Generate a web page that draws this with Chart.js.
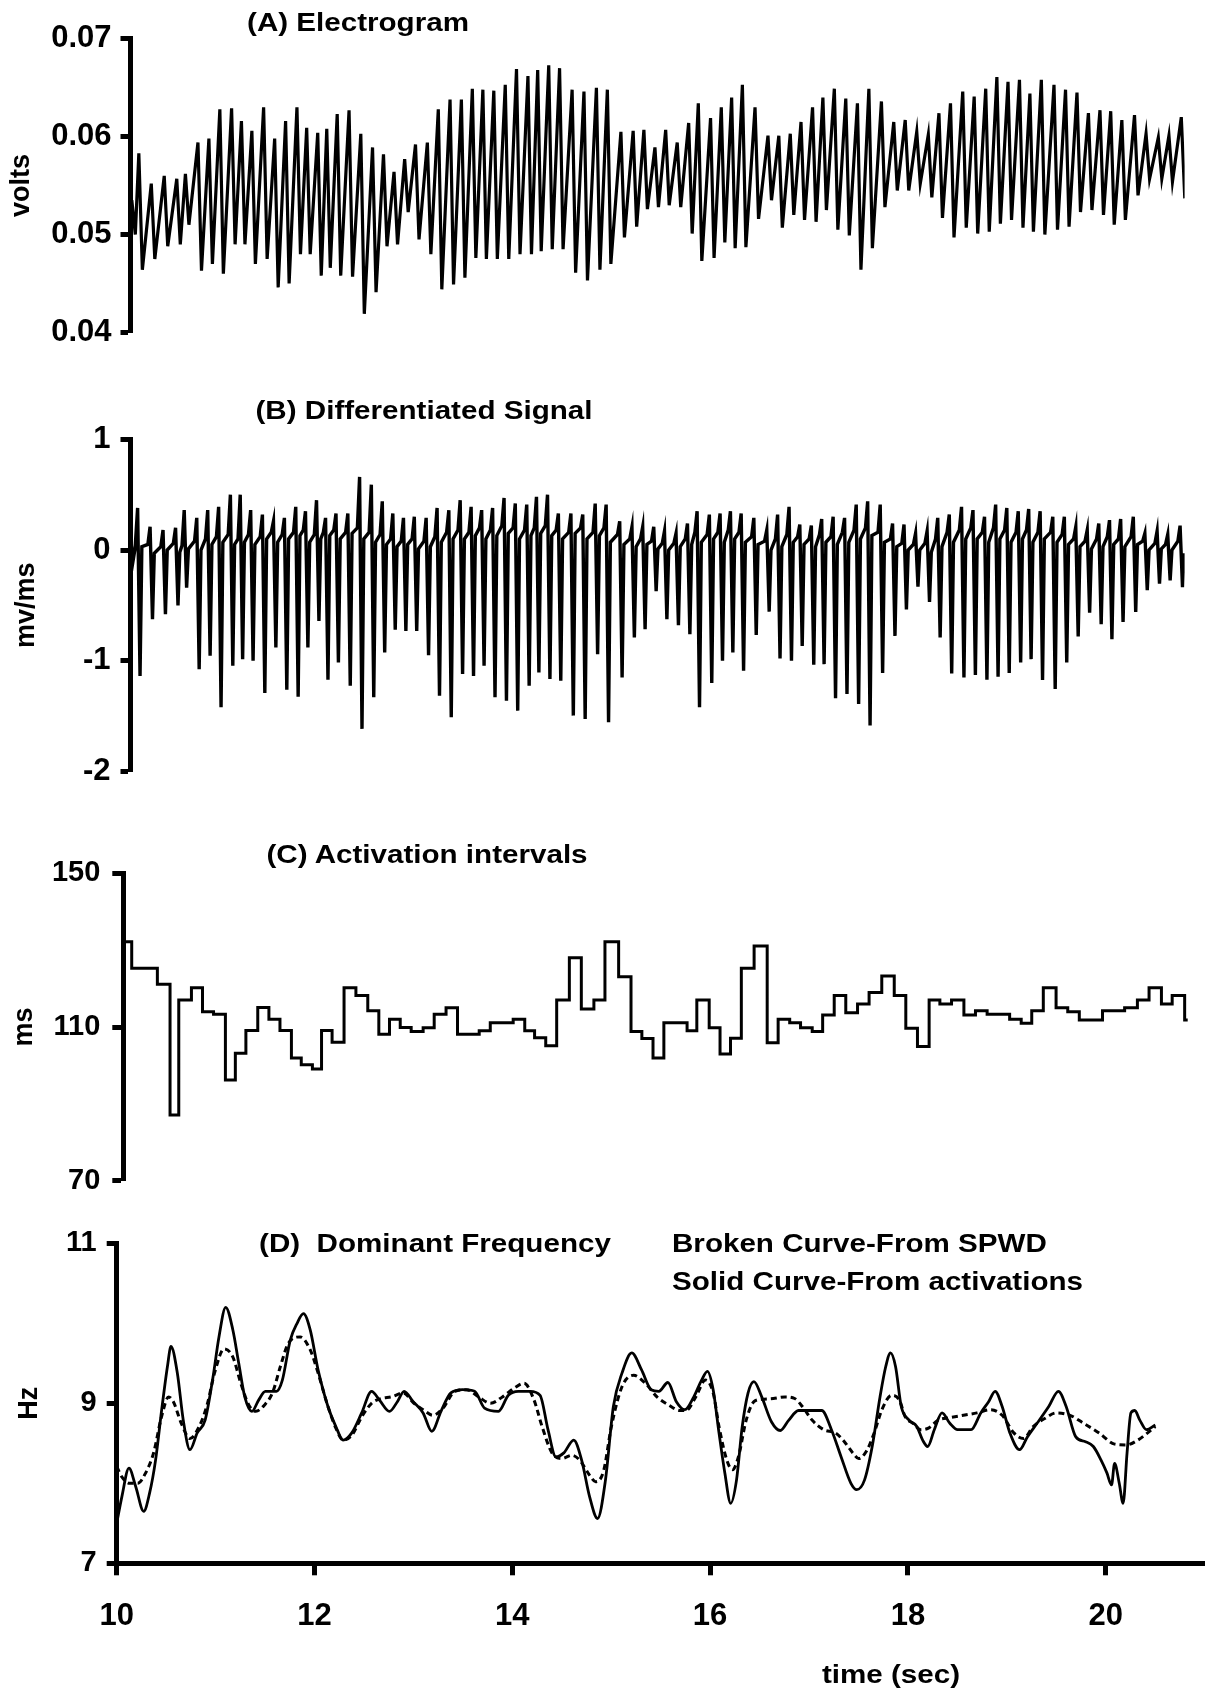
<!DOCTYPE html>
<html>
<head>
<meta charset="utf-8">
<script src="https://cdn.jsdelivr.net/npm/chart.js"></script>
<style>
html,body{margin:0;padding:0;background:#fff;}
#wrap{position:relative;width:1207px;height:1692px;overflow:hidden;background:#fff;}
canvas{position:absolute;left:0;}
.lbl{position:absolute;font-family:"Liberation Sans",Arial,Helvetica,sans-serif;font-weight:bold;color:#000;white-space:pre;line-height:1;font-size:25.6px;}
.ctr{transform:translate(-50%,-50%) scaleX(1.156);}
.lft{transform-origin:0 50%;transform:translateY(-50%) scaleX(1.156);}
</style>
</head>
<body>
<div id="wrap">
  <canvas id="cA" width="1207" height="360" style="top:0px;width:1207px;height:360px"></canvas>
  <canvas id="cB" width="1207" height="420" style="top:380px;width:1207px;height:420px"></canvas>
  <canvas id="cC" width="1207" height="400" style="top:820px;width:1207px;height:400px"></canvas>
  <canvas id="cD" width="1207" height="492" style="top:1200px;width:1207px;height:492px"></canvas>

  <div class="lbl ctr" style="left:358px;top:23px">(A) Electrogram</div>
  <div class="lbl ctr" style="left:424px;top:411px">(B) Differentiated Signal</div>
  <div class="lbl ctr" style="left:427px;top:855px">(C) Activation intervals</div>
  <div class="lbl ctr" style="left:435px;top:1244px">(D)  Dominant Frequency</div>
  <div class="lbl lft" style="left:672px;top:1244px">Broken Curve-From SPWD</div>
  <div class="lbl lft" style="left:672px;top:1282px">Solid Curve-From activations</div>
  <div class="lbl ctr" style="left:891px;top:1675px">time (sec)</div>
</div>
<script>
// ================= DATA =================
// activation (beat) times, seconds
const beatTimes = [
 10.013, 10.083, 10.207, 10.336, 10.461, 10.547, 10.672, 10.781, 10.890, 11.007,
 11.105, 11.209, 11.326, 11.436, 11.545, 11.658, 11.755, 11.865, 11.955, 12.059,
 12.177, 12.294, 12.411, 12.520, 12.625, 12.731, 12.839, 12.957, 13.066, 13.183,
 13.296, 13.405, 13.510, 13.619, 13.733, 13.845, 13.959, 14.056, 14.166, 14.274,
 14.399, 14.517, 14.641, 14.750, 14.885, 15.007, 15.114, 15.224, 15.331, 15.446,
 15.560, 15.656, 15.778, 15.885, 15.988, 16.095, 16.221, 16.350, 16.458, 16.572,
 16.679, 16.794, 16.897, 17.011, 17.125, 17.241, 17.355, 17.480, 17.603, 17.717,
 17.832, 17.947, 18.053, 18.168, 18.290, 18.404, 18.519, 18.630, 18.741, 18.855,
 18.959, 19.073, 19.199, 19.314, 19.428, 19.542, 19.657, 19.764, 19.875, 20.001,
 20.116, 20.238, 20.344, 20.467];
const lastBeatEnd = 20.497;

// (C) activation intervals, ms (one per beat)
const intervalMs = [
 132.2, 125.3, 125.3, 121.1, 87.1, 117.0, 120.2, 114.0, 113.3, 96.2,
 103.2, 109.1, 115.1, 112.0, 109.1, 101.9, 100.2, 99.1, 109.1, 106.0,
 120.2, 118.2, 114.2, 108.1, 112.0, 109.9, 108.8, 109.8, 113.3, 115.0,
 108.1, 108.1, 109.0, 111.1, 111.1, 112.0, 109.0, 107.2, 105.1, 117.0,
 128.0, 114.7, 117.0, 132.2, 123.1, 108.8, 107.0, 101.9, 111.1, 111.1,
 109.0, 117.0, 109.8, 103.0, 107.1, 125.3, 131.1, 105.9, 112.0, 111.1,
 109.8, 108.8, 113.1, 118.2, 113.7, 116.0, 119.0, 123.3, 118.2, 109.7,
 104.9, 117.0, 116.0, 117.0, 113.1, 114.2, 113.3, 113.3, 112.0, 111.0,
 114.2, 120.2, 115.0, 114.0, 111.8, 111.8, 114.2, 114.2, 115.0, 117.0,
 120.2, 116.0, 118.2, 111.8];

// (A) electrogram, volts: peak before and trough after each activation
const egmPeak = [
 0.0535, 0.0583, 0.0552, 0.0560, 0.0557, 0.0562, 0.0594, 0.0598, 0.0628, 0.0629,
 0.0616, 0.0606, 0.0630, 0.0598, 0.0616, 0.0630, 0.0609, 0.0604, 0.0608, 0.0623,
 0.0627, 0.0603, 0.0589, 0.0582, 0.0564, 0.0577, 0.0592, 0.0594, 0.0628, 0.0638,
 0.0638, 0.0649, 0.0648, 0.0647, 0.0653, 0.0669, 0.0662, 0.0668, 0.0673, 0.0670,
 0.0648, 0.0646, 0.0650, 0.0648, 0.0605, 0.0606, 0.0607, 0.0589, 0.0607, 0.0594,
 0.0614, 0.0634, 0.0619, 0.0630, 0.0640, 0.0653, 0.0630, 0.0601, 0.0601, 0.0603,
 0.0615, 0.0630, 0.0640, 0.0649, 0.0639, 0.0634, 0.0649, 0.0636, 0.0615, 0.0617,
 0.0605, 0.0602, 0.0624, 0.0634, 0.0646, 0.0641, 0.0649, 0.0661, 0.0656, 0.0658,
 0.0644, 0.0658, 0.0653, 0.0648, 0.0645, 0.0624, 0.0627, 0.0626, 0.0617, 0.0622,
 0.0603, 0.0599, 0.0601, 0.0620];
const egmTrough = [
 0.0500, 0.0464, 0.0475, 0.0488, 0.0490, 0.0510, 0.0463, 0.0470, 0.0460, 0.0490,
 0.0490, 0.0470, 0.0475, 0.0446, 0.0450, 0.0480, 0.0480, 0.0458, 0.0466, 0.0458,
 0.0457, 0.0419, 0.0441, 0.0488, 0.0490, 0.0523, 0.0495, 0.0480, 0.0444, 0.0449,
 0.0456, 0.0476, 0.0475, 0.0475, 0.0475, 0.0480, 0.0480, 0.0483, 0.0485, 0.0485,
 0.0461, 0.0453, 0.0464, 0.0470, 0.0497, 0.0508, 0.0526, 0.0528, 0.0530, 0.0528,
 0.0501, 0.0473, 0.0476, 0.0492, 0.0486, 0.0487, 0.0516, 0.0535, 0.0507, 0.0520,
 0.0515, 0.0513, 0.0525, 0.0505, 0.0499, 0.0464, 0.0486, 0.0528, 0.0545, 0.0545,
 0.0552, 0.0538, 0.0517, 0.0497, 0.0507, 0.0501, 0.0503, 0.0511, 0.0515, 0.0507,
 0.0503, 0.0500, 0.0505, 0.0508, 0.0523, 0.0525, 0.0520, 0.0510, 0.0515, 0.0540,
 0.0557, 0.0557, 0.0554, 0.0537];

// (B) differentiated signal, mv/ms:
// band level before the upstroke, positive peak, negative spike, band level after the spike
const dvdtPre = [
 0.04, 0.06, 0.05, 0.03, 0.06, 0.04, 0.08, 0.10, 0.12, 0.14,
 0.10, 0.14, 0.12, 0.16, 0.14, 0.16, 0.18, 0.14, 0.16, 0.18,
 0.16, 0.20, 0.16, 0.14, 0.10, 0.08, 0.10, 0.08, 0.12, 0.16,
 0.18, 0.16, 0.20, 0.18, 0.22, 0.20, 0.18, 0.20, 0.22, 0.18,
 0.16, 0.20, 0.16, 0.20, 0.14, 0.10, 0.10, 0.08, 0.06, 0.06,
 0.10, 0.16, 0.14, 0.16, 0.18, 0.16, 0.12, 0.08, 0.10, 0.14,
 0.12, 0.10, 0.14, 0.12, 0.16, 0.18, 0.20, 0.16, 0.10, 0.06,
 0.05, 0.06, 0.10, 0.16, 0.18, 0.20, 0.16, 0.20, 0.18, 0.16,
 0.18, 0.16, 0.16, 0.14, 0.10, 0.08, 0.10, 0.12, 0.10, 0.12,
 0.08, 0.06, 0.05, 0.08];
const dvdtMax = [
 0.10, 0.38, 0.21, 0.18, 0.20, 0.36, 0.29, 0.36, 0.39, 0.50,
 0.50, 0.36, 0.32, 0.26, 0.29, 0.39, 0.35, 0.45, 0.29, 0.33,
 0.33, 0.66, 0.59, 0.44, 0.33, 0.29, 0.30, 0.29, 0.38, 0.36,
 0.45, 0.39, 0.36, 0.38, 0.47, 0.42, 0.41, 0.48, 0.50, 0.33,
 0.33, 0.32, 0.42, 0.41, 0.26, 0.21, 0.21, 0.21, 0.17, 0.15,
 0.24, 0.35, 0.32, 0.33, 0.35, 0.33, 0.29, 0.18, 0.32, 0.39,
 0.23, 0.22, 0.28, 0.30, 0.29, 0.41, 0.44, 0.41, 0.24, 0.23,
 0.15, 0.17, 0.29, 0.32, 0.39, 0.36, 0.30, 0.41, 0.38, 0.35,
 0.37, 0.35, 0.30, 0.30, 0.21, 0.18, 0.24, 0.27, 0.28, 0.30,
 0.15, 0.17, 0.14, 0.22];
const dvdtMin = [
 -0.10, -1.137, -0.626, -0.581, -0.500, -0.341, -1.076, -0.956, -1.421, -1.046,
 -0.986, -1.001, -1.292, -0.881, -1.262, -1.325, -0.881, -0.641, -1.172, -1.016,
 -1.226, -1.616, -1.331, -0.926, -0.719, -0.731, -0.731, -0.950, -1.316, -1.511,
 -1.121, -1.137, -1.046, -1.331, -1.361, -1.451, -1.226, -1.106, -1.166, -1.181,
 -1.496, -1.526, -0.941, -1.556, -1.151, -0.791, -0.716, -0.371, -0.626, -0.680,
 -0.761, -1.421, -1.202, -1.001, -0.926, -1.091, -0.767, -0.557, -0.980, -1.001,
 -0.866, -1.037, -1.031, -1.340, -1.301, -1.391, -1.586, -1.112, -0.776, -0.536,
 -0.332, -0.470, -0.791, -1.115, -1.151, -1.130, -1.172, -1.145, -1.112, -1.016,
 -0.986, -1.175, -1.256, -1.016, -0.782, -0.566, -0.671, -0.806, -0.650, -0.560,
 -0.362, -0.305, -0.275, -0.335];
const dvdtRest = [
 0.00, 0.03, -0.03, 0.00, -0.02, 0.01, 0.00, 0.05, 0.07, 0.05,
 0.07, 0.05, 0.10, 0.07, 0.10, 0.13, 0.07, 0.10, 0.13, 0.10,
 0.15, 0.10, 0.07, 0.05, 0.03, 0.05, 0.01, 0.03, 0.07, 0.10,
 0.10, 0.13, 0.10, 0.13, 0.15, 0.10, 0.13, 0.15, 0.13, 0.10,
 0.15, 0.10, 0.13, 0.07, 0.05, 0.03, 0.05, 0.01, 0.00, 0.03,
 0.05, 0.07, 0.10, 0.07, 0.10, 0.07, 0.05, 0.00, 0.03, 0.07,
 0.05, 0.03, 0.07, 0.05, 0.07, 0.10, 0.13, 0.07, 0.03, 0.00,
 0.00, -0.02, 0.03, 0.07, 0.10, 0.10, 0.07, 0.10, 0.07, 0.10,
 0.07, 0.10, 0.07, 0.05, 0.03, 0.01, 0.03, 0.05, 0.03, 0.05,
 0.00, 0.01, 0.00, -0.03];

// (D) dominant frequency from activations (solid curve)
const actTime = [
 10.000, 10.052, 10.124, 10.192, 10.273, 10.333, 10.393, 10.453, 10.513, 10.549,
 10.613, 10.673, 10.741, 10.814, 10.894, 10.974, 11.034, 11.102, 11.174, 11.234,
 11.295, 11.367, 11.435, 11.503, 11.615, 11.675, 11.755, 11.824, 11.888, 11.956,
 12.036, 12.136, 12.216, 12.289, 12.377, 12.477, 12.577, 12.657, 12.758, 12.838,
 12.906, 12.998, 13.098, 13.186, 13.279, 13.379, 13.499, 13.619, 13.719, 13.860,
 13.960, 14.060, 14.180, 14.281, 14.361, 14.441, 14.521, 14.621, 14.701, 14.782,
 14.862, 14.942, 15.022, 15.110, 15.208, 15.306, 15.404, 15.482, 15.573, 15.659,
 15.745, 15.835, 15.914, 15.973, 16.031, 16.090, 16.149, 16.208, 16.267, 16.325,
 16.384, 16.443, 16.522, 16.620, 16.710, 16.796, 16.894, 17.012, 17.129, 17.227,
 17.325, 17.424, 17.482, 17.561, 17.639, 17.718, 17.776, 17.824, 17.875, 17.933,
 18.012, 18.090, 18.149, 18.200, 18.267, 18.345, 18.424, 18.502, 18.639, 18.737,
 18.816, 18.882, 18.953, 19.031, 19.129, 19.208, 19.306, 19.424, 19.522, 19.600,
 19.698, 19.796, 19.875, 19.953, 20.012, 20.059, 20.090, 20.137, 20.176, 20.216,
 20.255, 20.294, 20.345, 20.412, 20.502];
const actHz = [
 7.50, 7.83, 8.19, 7.96, 7.65, 7.88, 8.29, 8.90, 9.46, 9.71,
 9.38, 8.79, 8.42, 8.63, 8.79, 9.33, 9.83, 10.20, 9.92, 9.50,
 9.08, 8.90, 9.04, 9.15, 9.15, 9.29, 9.79, 10.00, 10.12, 9.92,
 9.42, 8.96, 8.71, 8.54, 8.63, 8.88, 9.15, 9.04, 8.90, 9.02,
 9.15, 9.02, 8.88, 8.65, 8.90, 9.13, 9.17, 9.15, 8.94, 8.90,
 9.10, 9.15, 9.15, 9.10, 8.67, 8.33, 8.38, 8.54, 8.29, 7.83,
 7.56, 8.04, 8.96, 9.38, 9.63, 9.42, 9.17, 9.15, 9.26, 9.02,
 8.92, 9.08, 9.29, 9.40, 9.17, 8.63, 8.13, 7.75, 8.04, 8.71,
 9.13, 9.27, 9.08, 8.77, 8.66, 8.79, 8.91, 8.91, 8.91, 8.67,
 8.33, 8.00, 7.92, 8.04, 8.46, 9.08, 9.46, 9.63, 9.46, 8.96,
 8.79, 8.71, 8.54, 8.46, 8.67, 8.88, 8.75, 8.67, 8.67, 8.88,
 9.02, 9.15, 8.96, 8.63, 8.42, 8.58, 8.75, 8.96, 9.15, 8.96,
 8.58, 8.52, 8.46, 8.29, 8.13, 7.98, 8.25, 8.00, 7.75, 8.38,
 8.88, 8.91, 8.79, 8.67, 8.73];

// (D) dominant frequency from SPWD (broken curve)
const spwdTime = [
 10.000, 10.052, 10.132, 10.212, 10.293, 10.373, 10.453, 10.525, 10.573, 10.653,
 10.741, 10.834, 10.914, 10.994, 11.086, 11.174, 11.255, 11.335, 11.407, 11.495,
 11.575, 11.655, 11.735, 11.856, 11.956, 12.036, 12.136, 12.216, 12.289, 12.377,
 12.477, 12.577, 12.677, 12.778, 12.898, 12.998, 13.098, 13.198, 13.299, 13.419,
 13.539, 13.659, 13.780, 13.900, 14.020, 14.120, 14.220, 14.301, 14.401, 14.501,
 14.601, 14.681, 14.782, 14.842, 14.922, 15.002, 15.110, 15.227, 15.345, 15.463,
 15.580, 15.698, 15.757, 15.855, 15.953, 16.031, 16.090, 16.169, 16.227, 16.286,
 16.365, 16.443, 16.522, 16.639, 16.757, 16.855, 16.933, 17.031, 17.149, 17.267,
 17.345, 17.443, 17.502, 17.580, 17.659, 17.737, 17.835, 17.914, 17.973, 18.051,
 18.129, 18.208, 18.306, 18.424, 18.561, 18.698, 18.835, 18.953, 19.071, 19.169,
 19.267, 19.384, 19.502, 19.639, 19.776, 19.933, 20.090, 20.208, 20.325, 20.424,
 20.502];
const spwdHz = [
 8.21, 8.08, 8.00, 8.00, 8.13, 8.38, 8.83, 9.08, 9.02, 8.75,
 8.56, 8.71, 8.98, 9.40, 9.68, 9.58, 9.25, 8.98, 8.90, 8.98,
 9.13, 9.46, 9.75, 9.83, 9.67, 9.38, 8.96, 8.69, 8.54, 8.60,
 8.83, 9.00, 9.06, 9.08, 9.13, 9.01, 8.92, 8.85, 8.94, 9.15,
 9.17, 9.08, 9.00, 9.08, 9.19, 9.25, 9.04, 8.71, 8.38, 8.31,
 8.35, 8.29, 8.10, 8.02, 8.15, 8.71, 9.21, 9.35, 9.25, 9.08,
 8.98, 8.91, 8.91, 9.08, 9.29, 9.13, 8.71, 8.29, 8.17, 8.33,
 8.79, 9.02, 9.05, 9.06, 9.08, 9.06, 8.96, 8.79, 8.67, 8.63,
 8.54, 8.38, 8.31, 8.40, 8.63, 8.92, 9.10, 9.04, 8.83, 8.75,
 8.67, 8.69, 8.79, 8.82, 8.85, 8.88, 8.92, 8.85, 8.63, 8.56,
 8.71, 8.81, 8.88, 8.85, 8.75, 8.63, 8.49, 8.48, 8.54, 8.63,
 8.71];

// tick values and labels
const egmTicks = [0.04, 0.05, 0.06, 0.07];
const egmTickLabels = ['0.04', '0.05', '0.06', '0.07'];
const dvdtTicks = [-2, -1, 0, 1];
const dvdtTickLabels = ['-2', '-1', '0', '1'];
const ivlTicks = [70, 110, 150];
const ivlTickLabels = ['70', '110', '150'];
const hzTicks = [7, 9, 11];
const hzTickLabels = ['7', '9', '11'];
const timeTicks = [10, 12, 14, 16, 18, 20];
const timeTickLabels = ['10', '12', '14', '16', '18', '20'];

// ================= drawing =================
const FONT = '"Liberation Sans", Arial, Helvetica, sans-serif';
const INK = '#000';
// stroke timing of the drawn waveforms (seconds)
const EGM_FALL = 0.035, DV_LEAD = 0.034, DV_PRE = 0.012, DV_POST = 0.012, DV_BACK = 0.03;

const egmPts = [];
beatTimes.forEach((t, i) => {
  egmPts.push({x: t, y: egmPeak[i]});
  egmPts.push({x: t + EGM_FALL, y: egmTrough[i]});
});
const dvdtPts = [];
beatTimes.forEach((t, i) => {
  dvdtPts.push({x: t - DV_LEAD, y: dvdtPre[i]});
  dvdtPts.push({x: t - DV_PRE, y: dvdtMax[i]});
  dvdtPts.push({x: t + DV_POST, y: dvdtMin[i]});
  dvdtPts.push({x: t + DV_BACK, y: dvdtRest[i]});
});
const ivlPts = beatTimes.map((t, i) => ({x: t, y: intervalMs[i]}));
ivlPts.push({x: lastBeatEnd, y: intervalMs[intervalMs.length - 1]});
const actPts = actTime.map((t, i) => ({x: t, y: actHz[i]}));
const spwdPts = spwdTime.map((t, i) => ({x: t, y: spwdHz[i]}));

function yAxis(o) {
  return {
    type: 'linear', position: 'left', min: o.min, max: o.max,
    afterFit(s) { s.width = o.axisX; },
    afterBuildTicks(s) { s.ticks = o.ticks.map(v => ({value: v})); },
    ticks: {
      color: INK, autoSkip: false, padding: o.pad,
      font: {family: FONT, weight: 'bold', size: o.fs},
      callback: (v, i) => o.labels[i]
    },
    grid: {display: true, drawOnChartArea: false, drawTicks: true, tickLength: o.tl, tickWidth: 5, tickColor: INK},
    border: {display: true, color: INK, width: 5},
    title: {display: true, text: o.title, color: INK,
      font: {family: FONT, weight: 'bold', size: 27}, padding: {top: o.tpad, bottom: 0}}
  };
}
function hiddenX(max) {
  return {type: 'linear', min: 10, max: max, display: false};
}
function base(pad, scales) {
  return {
    responsive: false, maintainAspectRatio: false, animation: false, devicePixelRatio: 1, events: [],
    layout: {padding: pad},
    plugins: {legend: {display: false}, tooltip: {enabled: false}, title: {display: false}},
    elements: {point: {radius: 0}},
    scales: scales
  };
}

// (A) Electrogram
new Chart(document.getElementById('cA'), {
  type: 'line',
  data: {datasets: [{data: egmPts, borderColor: INK, borderWidth: 3.2, tension: 0, pointRadius: 0}]},
  options: base({left: 0, top: 38.8, right: 22.4, bottom: 24.6}, {
    x: hiddenX(20.5),
    y: yAxis({min: 0.04, max: 0.07, axisX: 130.5, ticks: egmTicks, labels: egmTickLabels,
      pad: 9, tl: 10, fs: 31, title: 'volts', tpad: 5})
  })
});

// (B) Differentiated signal
new Chart(document.getElementById('cB'), {
  type: 'line',
  data: {datasets: [{data: dvdtPts, borderColor: INK, borderWidth: 3.4, tension: 0, pointRadius: 0}]},
  options: base({left: 0, top: 59.3, right: 22.4, bottom: 27.3}, {
    x: hiddenX(20.5),
    y: yAxis({min: -2, max: 1, axisX: 130.5, ticks: dvdtTicks, labels: dvdtTickLabels,
      pad: 10, tl: 10, fs: 31, title: 'mv/ms', tpad: 10})
  })
});

// (C) Activation intervals
new Chart(document.getElementById('cC'), {
  type: 'line',
  data: {datasets: [{data: ivlPts, borderColor: INK, borderWidth: 3, stepped: 'before', pointRadius: 0}]},
  options: base({left: 0, top: 53.3, right: 19, bottom: 39.3}, {
    x: hiddenX(20.5),
    y: yAxis({min: 70, max: 150, axisX: 123.3, ticks: ivlTicks, labels: ivlTickLabels,
      pad: 12, tl: 11, fs: 29, title: 'ms', tpad: 8})
  })
});

// (D) Dominant frequency
new Chart(document.getElementById('cD'), {
  type: 'line',
  data: {datasets: [
    {data: spwdPts, borderColor: INK, borderWidth: 3, borderDash: [6, 4], cubicInterpolationMode: 'monotone', pointRadius: 0},
    {data: actPts, borderColor: INK, borderWidth: 2.8, cubicInterpolationMode: 'monotone', pointRadius: 0}
  ]},
  options: base({left: 0, top: 43.3, right: 2.4, bottom: 0}, {
    x: {
      type: 'linear', position: 'bottom', min: 10, max: 21,
      afterFit(s) { s.height = 128.7; },
      afterBuildTicks(s) { s.ticks = timeTicks.map(v => ({value: v})); },
      ticks: {color: INK, autoSkip: false, maxRotation: 0, padding: 23,
        font: {family: FONT, weight: 'bold', size: 31},
        callback: (v, i) => timeTickLabels[i]},
      grid: {display: true, drawOnChartArea: false, drawTicks: true, tickLength: 12, tickWidth: 5, tickColor: INK},
      border: {display: true, color: INK, width: 5}
    },
    y: yAxis({min: 7, max: 11, axisX: 116.7, ticks: hzTicks, labels: hzTickLabels,
      pad: 10, tl: 10, fs: 29, title: 'Hz', tpad: 13})
  })
});
</script>
</body>
</html>
